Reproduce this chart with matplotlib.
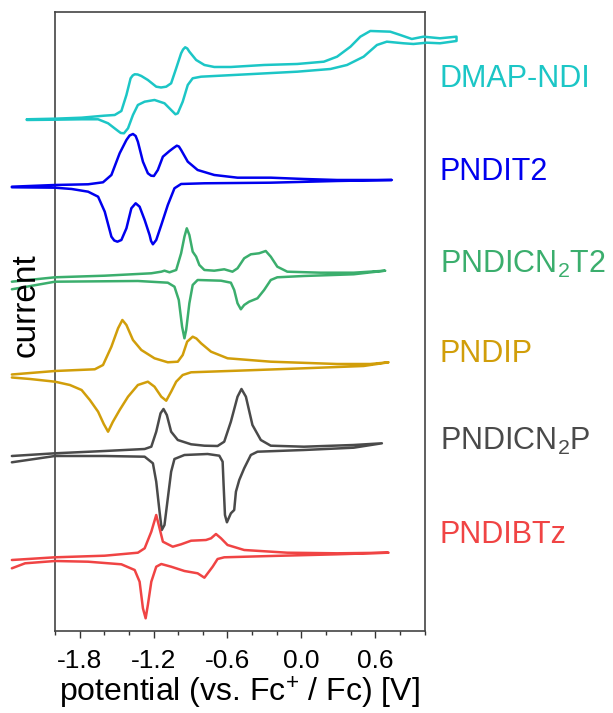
import matplotlib
matplotlib.use('Agg')
import matplotlib.pyplot as plt
from matplotlib.ticker import FixedLocator, MultipleLocator

plt.rcParams['font.family'] = ['Liberation Sans', 'DejaVu Sans']
plt.rcParams['mathtext.default'] = 'regular'
plt.rcParams['axes.unicode_minus'] = False

# cyclic voltammograms, potential in V vs Fc+/Fc, current in arbitrary units
# (each loop: forward branch left->right, then return branch right->left)
dmap_E = [-2.229, -2.000, -1.784, -1.601, -1.515, -1.461, -1.420, -1.386, -1.369, -1.353,
          -1.329, -1.299, -1.246, -1.178, -1.139, -1.097, -1.057, -1.016, -0.976, -0.960,
          -0.943, -0.926, -0.909, -0.854, -0.787, -0.707, -0.572, -0.302, -0.033, 0.183,
          0.290, 0.399, 0.479, 0.560, 0.722, 0.803, 0.897, 0.991, 1.126, 1.260,
          1.260, 1.126, 1.018, 0.910, 0.829, 0.694, 0.614, 0.506, 0.371, 0.237,
          -0.033, -0.437, -0.814, -0.882, -0.922, -0.963, -1.003, -1.022, -1.057, -1.111,
          -1.192, -1.272, -1.327, -1.367, -1.407, -1.440, -1.466, -1.488, -1.569, -1.650,
          -1.784, -2.000, -2.229]
dmap_I = [-0.3, 0.3, 1.3, 3.3, 4.0, 8.0, 24.0, 40.7, 43.5, 44.7,
          44.5, 43.0, 39.0, 32.3, 31.5, 32.3, 35.7, 50.7, 65.7, 69.5,
          71.7, 70.5, 67.3, 59.0, 54.0, 52.0, 52.0, 54.0, 55.0, 57.3,
          62.3, 72.3, 82.3, 88.0, 87.3, 84.0, 80.0, 82.3, 80.7, 82.3,
          78.0, 75.7, 76.3, 75.0, 75.7, 77.3, 74.0, 62.3, 54.0, 50.0,
          47.3, 44.7, 42.3, 40.7, 34.0, 17.3, 5.7, 4.7, 9.0, 15.7,
          19.0, 17.3, 14.0, 4.0, -9.3, -14.3, -14.0, -12.0, -4.3, -0.3,
          -0.3, -0.7, -1.0]

t2_E = [-2.350, -2.000, -1.731, -1.610, -1.542, -1.475, -1.420, -1.394, -1.367, -1.345,
        -1.327, -1.286, -1.246, -1.220, -1.197, -1.165, -1.124, -1.070, -1.038, -1.011,
        -0.994, -0.976, -0.922, -0.842, -0.707, -0.518, -0.248, 0.021, 0.290, 0.735,
        0.290, -0.248, -0.787, -0.976, -1.030, -1.084, -1.137, -1.178, -1.205, -1.220,
        -1.232, -1.272, -1.313, -1.345, -1.380, -1.420, -1.461, -1.493, -1.519, -1.542,
        -1.596, -1.650, -1.731, -1.865, -2.000, -2.350]
t2_I = [-2.7, -1.0, -0.3, 1.7, 9.0, 30.7, 44.0, 48.5, 50.0, 48.0,
        42.3, 22.3, 10.7, 8.3, 8.0, 14.0, 27.3, 33.0, 36.0, 38.3,
        37.5, 34.0, 22.3, 14.0, 9.0, 6.3, 6.3, 5.0, 4.0, 4.0,
        3.0, 1.3, 0.7, 0.0, -4.3, -21.0, -41.0, -56.0, -60.3, -57.0,
        -51.0, -36.0, -22.7, -19.3, -24.3, -44.3, -56.0, -57.7, -56.5, -52.7,
        -27.7, -12.7, -7.7, -5.0, -3.7, -3.3]

cn2t2_E = [-2.350, -2.000, -1.596, -1.218, -1.137, -1.111, -1.070, -1.016, -0.976, -0.949,
           -0.930, -0.909, -0.882, -0.854, -0.828, -0.787, -0.707, -0.626, -0.559, -0.518,
           -0.464, -0.410, -0.343, -0.289, -0.248, -0.195, -0.114, 0.156, 0.425, 0.681,
           0.425, 0.021, -0.195, -0.248, -0.302, -0.356, -0.424, -0.464, -0.491, -0.518,
           -0.545, -0.572, -0.652, -0.842, -0.882, -0.909, -0.935, -0.949, -0.968, -0.995,
           -1.030, -1.084, -1.327, -2.000, -2.350]
cn2t2_I = [-5.7, -1.3, 0.3, 2.7, 4.3, 5.3, 3.7, 6.0, 22.7, 39.3,
           47.7, 41.0, 24.3, 19.3, 11.0, 6.0, 5.3, 6.7, 4.3, 7.7,
           17.7, 21.7, 22.7, 25.0, 19.3, 9.3, 4.3, 3.3, 3.3, 5.3,
           1.7, 0.0, -1.3, -4.0, -14.0, -22.3, -25.7, -29.0, -33.3, -27.3,
           -14.0, -6.7, -4.7, -4.0, -9.0, -27.3, -54.0, -62.3, -50.7, -24.0,
           -10.7, -6.7, -5.0, -5.7, -13.3]

p_E = [-2.350, -2.000, -1.677, -1.610, -1.542, -1.488, -1.453, -1.420, -1.367, -1.299,
       -1.192, -1.084, -1.003, -0.963, -0.927, -0.882, -0.852, -0.814, -0.733, -0.599,
       -0.248, 0.290, 0.560, 0.708,
       0.506, 0.021, -0.518, -0.895, -0.963, -1.016, -1.057, -1.097, -1.137, -1.192,
       -1.246, -1.327, -1.407, -1.475, -1.531, -1.569, -1.604, -1.650, -1.717, -1.784,
       -1.879, -2.000, -2.202, -2.350]
p_I = [-6.5, -3.0, -1.3, 3.0, 21.3, 39.7, 48.0, 43.0, 28.0, 18.0,
       9.7, 5.7, 6.3, 13.0, 26.3, 31.3, 29.5, 24.7, 16.3, 9.7,
       6.3, 4.0, 4.0, 5.7,
       2.0, -0.3, -2.7, -4.3, -7.0, -13.7, -23.7, -32.7, -28.7, -18.7,
       -13.7, -17.0, -28.7, -42.0, -54.0, -63.7, -56.0, -43.7, -32.0, -22.0,
       -17.0, -13.7, -11.0, -9.5]

cn2p_E = [-2.350, -2.000, -1.596, -1.272, -1.218, -1.178, -1.143, -1.119, -1.092, -1.057,
          -1.003, -0.895, -0.787, -0.680, -0.626, -0.572, -0.518, -0.486, -0.450, -0.397,
          -0.329, -0.248, 0.021, 0.425, 0.654,
          0.425, 0.021, -0.356, -0.410, -0.464, -0.504, -0.531, -0.545, -0.572, -0.604,
          -0.620, -0.631, -0.639, -0.666, -0.761, -0.949, -1.030, -1.057, -1.084, -1.111,
          -1.133, -1.151, -1.178, -1.205, -1.272, -1.596, -2.000, -2.350]
cn2p_I = [-6.0, -3.3, -1.0, 1.0, 3.3, 18.3, 36.7, 41.0, 35.0, 18.3,
          10.0, 5.7, 4.3, 4.0, 8.3, 28.3, 53.3, 61.0, 53.3, 25.0,
          10.0, 4.3, 3.3, 5.0, 6.7,
          2.3, 0.0, -1.7, -5.0, -18.3, -30.0, -41.7, -60.0, -63.3, -72.3,
          -65.0, -35.0, -11.7, -5.7, -4.0, -5.0, -9.0, -21.7, -48.3, -75.0,
          -80.0, -61.7, -31.7, -13.3, -6.7, -6.0, -6.0, -12.3]

btz_E = [-2.350, -2.000, -1.596, -1.327, -1.272, -1.218, -1.178, -1.151, -1.124, -1.044,
         -0.976, -0.895, -0.774, -0.733, -0.693, -0.652, -0.599, -0.464, -0.114, 0.290,
         0.708,
         0.290, -0.248, -0.626, -0.680, -0.720, -0.787, -0.842, -0.949, -1.057, -1.137,
         -1.178, -1.218, -1.246, -1.264, -1.286, -1.313, -1.353, -1.461, -1.731, -2.000,
         -2.243, -2.350]
btz_I = [-4.0, -1.3, 0.3, 3.3, 7.7, 24.3, 41.0, 27.7, 14.3, 9.3,
         11.7, 15.3, 16.0, 17.7, 22.0, 17.7, 11.0, 6.0, 3.3, 2.7,
         3.3,
         1.7, 0.0, -1.3, -3.0, -10.7, -21.7, -17.3, -15.0, -10.7, -8.0,
         -10.7, -25.7, -49.0, -62.3, -52.3, -25.7, -14.0, -8.3, -5.7, -5.0,
         -7.3, -12.3]

names = ['DMAP-NDI', 'PNDIT2', 'PNDICN$_2$T2', 'PNDIP', 'PNDICN$_2$P', 'PNDIBTz']
potentials = [dmap_E, t2_E, cn2t2_E, p_E, cn2p_E, btz_E]
currents = [dmap_I, t2_I, cn2t2_I, p_I, cn2p_I, btz_I]
offsets = [512, 447, 355, 263, 181, 75]
colors = ['#1CC6C6', '#0000EE', '#3BAE6D', '#D19E0A', '#4A4A4A', '#F04444']
label_y = [544, 451, 358, 269, 181, 88]

fig = plt.figure(figsize=(6.13, 7.13), dpi=100)
ax = fig.add_axes([0.0897, 0.115, 0.6028, 0.8675])

for E, I, off, col in zip(potentials, currents, offsets, colors):
    ax.plot(E, [off + v for v in I], color=col, lw=1.8, clip_on=False,
            solid_joinstyle='round', solid_capstyle='round', zorder=3)

for name, col, yl in zip(names, colors, label_y):
    ax.text(1.125, yl, name, color=col, fontsize=22, ha='left', va='baseline',
            clip_on=False)

ax.set_xlim(-2.0, 1.0)
ax.set_ylim(0, 618.5)
ax.xaxis.set_major_locator(FixedLocator([-1.8, -1.2, -0.6, 0.0, 0.6]))
ax.xaxis.set_minor_locator(MultipleLocator(0.2))
ax.set_xticklabels(['-1.8', '-1.2', '-0.6', '0.0', '0.6'])
ax.tick_params(axis='x', which='major', direction='out', length=5, width=1,
               labelsize=19, pad=8, colors='#333333', labelcolor='black')
ax.tick_params(axis='x', which='minor', direction='out', length=3, width=1,
               colors='#333333')
ax.set_yticks([])
for sp in ax.spines.values():
    sp.set_color('#444444')
    sp.set_linewidth(1.2)

ax.set_xlabel('potential (vs. Fc$^{\\mathregular{+}}$ / Fc) [V]', fontsize=23, labelpad=1)
fig.text(26 / 613, 1 - 305 / 713, 'current', rotation=90, fontsize=24,
         ha='center', va='center')

fig.savefig('out.png', dpi=100)
